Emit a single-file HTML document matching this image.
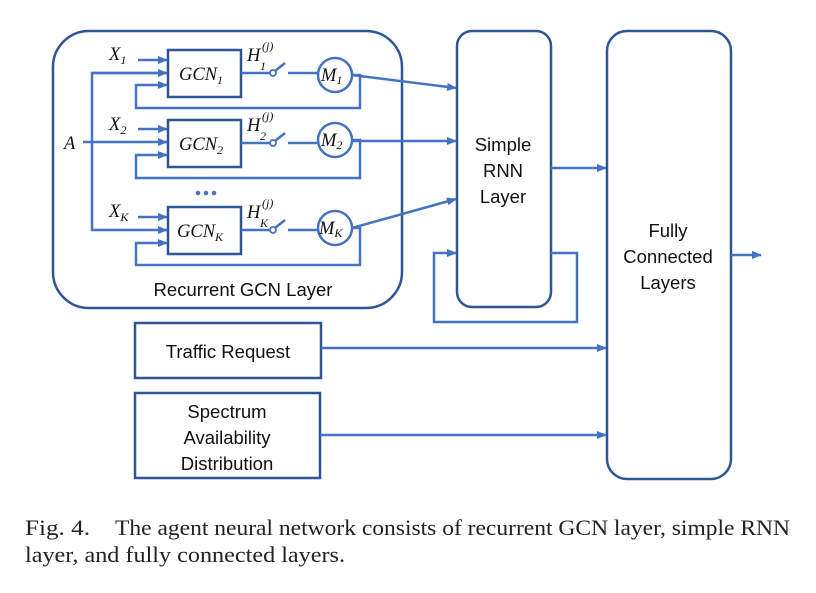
<!DOCTYPE html>
<html><head><meta charset="utf-8"><style>
html,body{margin:0;padding:0;background:#fff;}
svg{display:block;}
.s{font-family:"Liberation Sans",sans-serif;font-size:18.5px;fill:#111;}
.m{font-family:"Liberation Serif",serif;font-style:italic;font-size:18.5px;fill:#111;}
.sub{font-size:12px;}
.c{font-family:"Liberation Serif",serif;font-size:22px;fill:#222;}
</style></head><body>
<svg width="816" height="593" viewBox="0 0 816 593" xmlns="http://www.w3.org/2000/svg">
<defs>
<marker id="a" markerWidth="10" markerHeight="10" refX="9" refY="5" orient="auto" markerUnits="userSpaceOnUse">
<path d="M0,1 L10,5 L0,9 z" fill="#4472C4"/></marker>
</defs>
<g fill="none" stroke="#2F5597" stroke-width="2.5">
<rect x="53" y="31" width="349" height="277" rx="36"/>
<rect x="457" y="31" width="94" height="276" rx="15"/>
<rect x="607" y="31" width="124" height="448" rx="20"/>
<rect x="168" y="50" width="73" height="47"/>
<rect x="168" y="120" width="73" height="47"/>
<rect x="168" y="207" width="73" height="47"/>
<rect x="135" y="323" width="186" height="55"/>
<rect x="135" y="393" width="185" height="85"/>
</g>
<g fill="none" stroke="#4472C4" stroke-width="2.5">
<circle cx="335" cy="75" r="17"/>
<circle cx="335" cy="140" r="17"/>
<circle cx="335" cy="228" r="17"/>
<line x1="138" y1="60" x2="167" y2="60" marker-end="url(#a)"/>
<line x1="138" y1="129" x2="167" y2="129" marker-end="url(#a)"/>
<line x1="138" y1="217" x2="167" y2="217" marker-end="url(#a)"/>
<polyline points="167,73 92,73 92,230 167,230" marker-end="url(#a)"/>
<line x1="83" y1="142" x2="167" y2="142" marker-end="url(#a)"/>
<line x1="92" y1="73" x2="167" y2="73" marker-end="url(#a)"/>
<polyline points="352,75 360,75 360,108 136,108 136,85 167,85" marker-end="url(#a)"/>
<polyline points="352,140 360,140 360,178 136,178 136,155 167,155" marker-end="url(#a)"/>
<polyline points="352,228 360,228 360,265 136,265 136,243 167,243" marker-end="url(#a)"/>
<line x1="241" y1="73" x2="271" y2="73"/><line x1="275" y1="71" x2="285" y2="63"/><line x1="288" y1="73" x2="318" y2="73"/>
<line x1="241" y1="143" x2="271" y2="143"/><line x1="275" y1="141" x2="285" y2="133"/><line x1="288" y1="143" x2="318" y2="143"/>
<line x1="241" y1="230" x2="271" y2="230"/><line x1="275" y1="228" x2="285" y2="220"/><line x1="288" y1="230" x2="318" y2="230"/>
<line x1="352" y1="75" x2="456" y2="88" marker-end="url(#a)"/>
<line x1="352" y1="141" x2="456" y2="141" marker-end="url(#a)"/>
<line x1="352" y1="228" x2="456" y2="199" marker-end="url(#a)"/>
<polyline points="551,253 577,253 577,322 434,322 434,253 456,253" marker-end="url(#a)"/>
<line x1="551" y1="168" x2="606" y2="168" marker-end="url(#a)"/>
<line x1="731" y1="255" x2="761" y2="255" marker-end="url(#a)"/>
<line x1="321" y1="348" x2="606" y2="348" marker-end="url(#a)"/>
<line x1="320" y1="435" x2="606" y2="435" marker-end="url(#a)"/>
</g>
<g fill="#fff" stroke="#4472C4" stroke-width="1.8">
<circle cx="273" cy="73" r="3"/><circle cx="273" cy="143" r="3"/><circle cx="273" cy="230" r="3"/>
</g>
<g fill="#4472C4"><circle cx="198" cy="193" r="2.3"/><circle cx="206" cy="193" r="2.3"/><circle cx="214" cy="193" r="2.3"/></g>
<text class="m" x="109" y="60">X<tspan class="sub" dy="4">1</tspan></text>
<text class="m" x="109" y="130">X<tspan class="sub" dy="4">2</tspan></text>
<text class="m" x="109" y="217">X<tspan class="sub" dy="4">K</tspan></text>
<text class="m" x="64" y="149">A</text>
<text class="m" x="179" y="80">GCN<tspan class="sub" dy="4">1</tspan></text>
<text class="m" x="179" y="150">GCN<tspan class="sub" dy="4">2</tspan></text>
<text class="m" x="177" y="237">GCN<tspan class="sub" dy="4">K</tspan></text>
<text class="m" x="247" y="61">H</text><text class="m sub" x="262" y="50">(j)</text><text class="m sub" x="260" y="70">1</text>
<text class="m" x="247" y="131">H</text><text class="m sub" x="262" y="120">(j)</text><text class="m sub" x="260" y="140">2</text>
<text class="m" x="247" y="218">H</text><text class="m sub" x="262" y="207">(j)</text><text class="m sub" x="260" y="227">K</text>
<text class="m" x="321" y="81" font-size="17">M<tspan class="sub" dy="3">1</tspan></text>
<text class="m" x="321" y="146" font-size="17">M<tspan class="sub" dy="3">2</tspan></text>
<text class="m" x="319" y="234" font-size="17">M<tspan class="sub" dy="3">K</tspan></text>
<text class="s" x="243" y="296" text-anchor="middle">Recurrent GCN Layer</text>
<text class="s" x="503" y="151" text-anchor="middle">Simple</text>
<text class="s" x="503" y="177" text-anchor="middle">RNN</text>
<text class="s" x="503" y="203" text-anchor="middle">Layer</text>
<text class="s" x="668" y="237" text-anchor="middle">Fully</text>
<text class="s" x="668" y="263" text-anchor="middle">Connected</text>
<text class="s" x="668" y="289" text-anchor="middle">Layers</text>
<text class="s" x="228" y="358" text-anchor="middle">Traffic Request</text>
<text class="s" x="227" y="418" text-anchor="middle">Spectrum</text>
<text class="s" x="227" y="444" text-anchor="middle">Availability</text>
<text class="s" x="227" y="470" text-anchor="middle">Distribution</text>
<text class="c" x="25" y="535" textLength="65" lengthAdjust="spacingAndGlyphs">Fig. 4.</text>
<text class="c" x="115" y="535" textLength="675" lengthAdjust="spacingAndGlyphs">The agent neural network consists of recurrent GCN layer, simple RNN</text>
<text class="c" x="25" y="562" textLength="320" lengthAdjust="spacingAndGlyphs">layer, and fully connected layers.</text>
</svg>
</body></html>
